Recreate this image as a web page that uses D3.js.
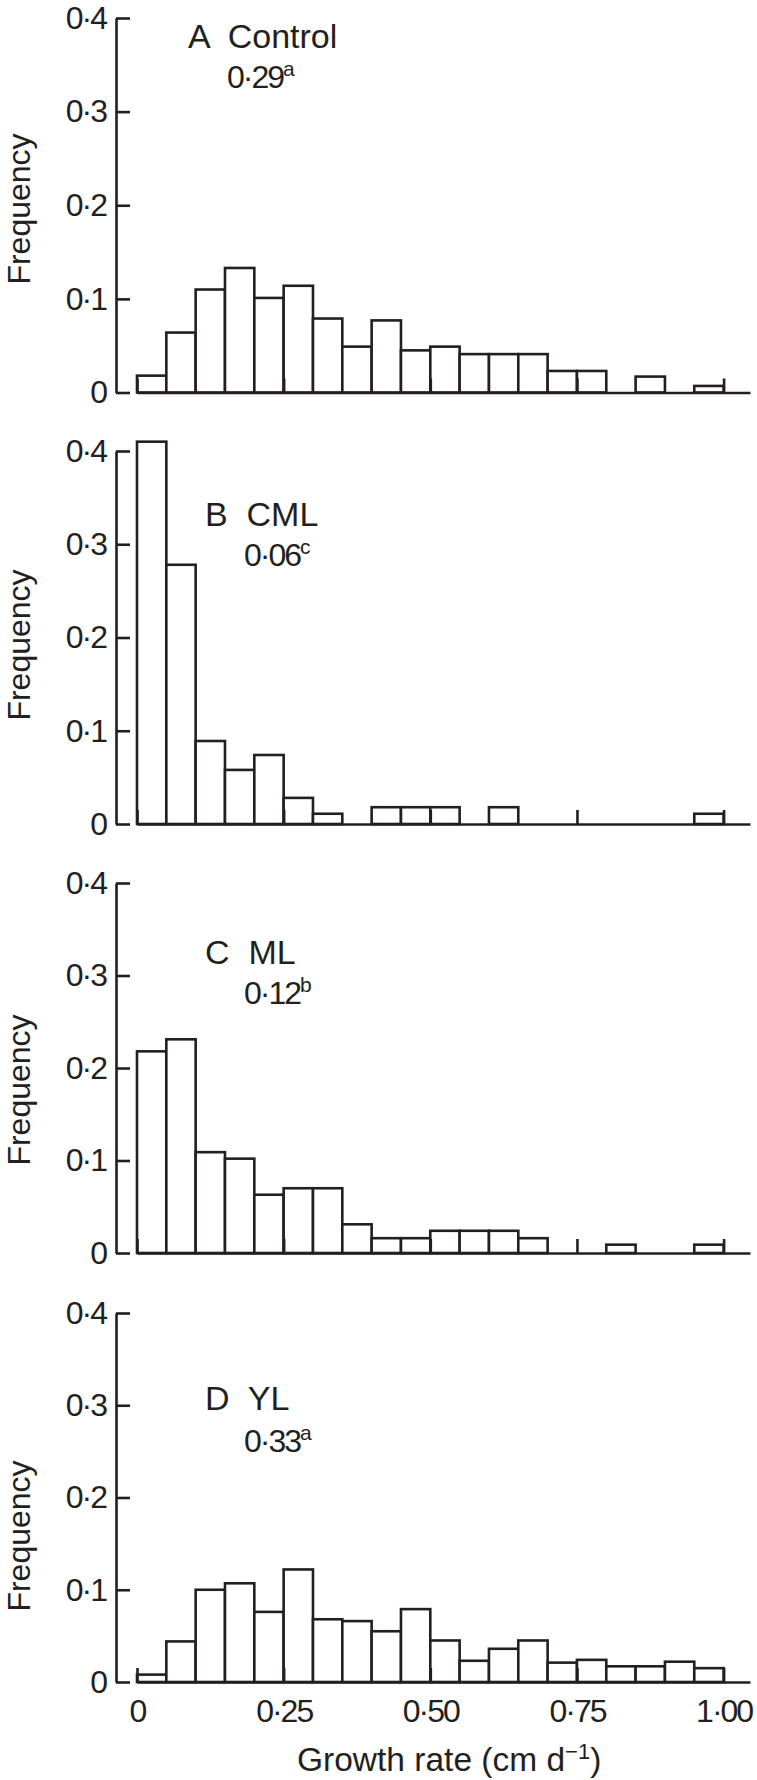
<!DOCTYPE html>
<html>
<head>
<meta charset="utf-8">
<script src="https://cdn.jsdelivr.net/npm/d3@7"></script>
<style>
  html, body { margin: 0; padding: 0; background: #fff; }
  svg { display: block; }
  text { font-family: "Liberation Sans", Arial, Helvetica, sans-serif; fill: #231f20; }
</style>
</head>
<body>
<svg id="chart" width="757" height="1780"></svg>
<script>
// ---- data ----
const binStarts = [0, 0.05, 0.10, 0.15, 0.20, 0.25, 0.30, 0.35, 0.40, 0.45,
                   0.50, 0.55, 0.60, 0.65, 0.70, 0.75, 0.80, 0.85, 0.90, 0.95];
const binWidth = 0.05;
const controlFreq = [0.018, 0.064, 0.110, 0.133, 0.101, 0.114, 0.079, 0.049, 0.077, 0.045,
                     0.049, 0.041, 0.041, 0.041, 0.023, 0.023, 0, 0.017, 0, 0.007];
const cmlFreq = [0.410, 0.278, 0.089, 0.058, 0.074, 0.028, 0.011, 0, 0.018, 0.018,
                 0.018, 0, 0.018, 0, 0, 0, 0, 0, 0, 0.011];
const mlFreq = [0.218, 0.231, 0.109, 0.102, 0.063, 0.070, 0.070, 0.031, 0.016, 0.016,
                0.024, 0.024, 0.024, 0.016, 0, 0, 0.009, 0, 0, 0.009];
const ylFreq = [0.008, 0.044, 0.100, 0.107, 0.076, 0.122, 0.068, 0.066, 0.055, 0.079,
                0.045, 0.023, 0.036, 0.045, 0.021, 0.024, 0.017, 0.017, 0.022, 0.015];
const panelLetters = ["A", "B", "C", "D"];
const panelNames = ["Control", "CML", "ML", "YL"];
const meanValues = ["0·29", "0·06", "0·12", "0·33"];
const meanLetters = ["a", "c", "b", "a"];
const yTicks = [0, 0.1, 0.2, 0.3, 0.4];
const xTicks = [0, 0.25, 0.50, 0.75, 1.00];
const xTickLabels = ["0", "0·25", "0·50", "0·75", "1·00"];
const xTitle = "Growth rate (cm d";
const xTitleSup = "−1";
const yTitle = "Frequency";

const series = [controlFreq, cmlFreq, mlFreq, ylFreq];

// ---- layout ----
const svg = d3.select("#chart");
const ink = "#231f20";
const sw = 2.6;
const fs = 32;
const numSpacing = -2;
const panels = [
  { top: 18,   base: 392.5, labelY: 48,   valueY: 88,   freqY: 209 },
  { top: 451,  base: 824,   labelY: 526,  valueY: 566,  freqY: 645 },
  { top: 883,  base: 1253,  labelY: 964,  valueY: 1004, freqY: 1090 },
  { top: 1313, base: 1682,  labelY: 1410, valueY: 1452, freqY: 1536 }
];
const xAxisX = 116;
const x = d3.scaleLinear().domain([0, 1.045]).range([137, 750]);

panels.forEach((p, i) => {
  const g = svg.append("g");
  const y = d3.scaleLinear().domain([0, 0.4]).range([p.base, p.top]);
  const data = binStarts.map((b, k) => ({ x0: b, x1: b + binWidth, v: series[i][k] }));

  // bars
  g.selectAll("rect.bar").data(data.filter(d => d.v > 0)).join("rect")
    .attr("class", "bar")
    .attr("x", d => x(d.x0))
    .attr("width", d => x(d.x1) - x(d.x0))
    .attr("y", d => y(d.v))
    .attr("height", d => y(0) - y(d.v))
    .attr("fill", "#fff")
    .attr("stroke", ink)
    .attr("stroke-width", sw);

  // y axis
  const ya = g.append("g").attr("transform", `translate(${xAxisX},0)`)
    .call(d3.axisLeft(y).tickValues(yTicks)
      .tickSizeInner(-14).tickSizeOuter(0).tickPadding(10)
      .tickFormat(d => d === 0 ? "0" : d3.format(".1f")(d).replace(".", "·")));
  ya.select(".domain").attr("stroke", ink).attr("stroke-width", sw);
  ya.selectAll(".tick line").attr("stroke", ink).attr("stroke-width", sw);
  ya.selectAll(".tick text").attr("font-size", fs).attr("font-family", null)
    .attr("fill", ink).attr("letter-spacing", numSpacing);

  // x axis
  const xa = g.append("g").attr("transform", `translate(0,${p.base})`)
    .call(d3.axisBottom(x).tickValues(xTicks)
      .tickSizeInner(-14).tickSizeOuter(0).tickPadding(17)
      .tickFormat((d, k) => i === 3 ? xTickLabels[k] : ""));
  xa.select(".domain").attr("stroke", ink).attr("stroke-width", sw);
  xa.selectAll(".tick line").attr("stroke", ink).attr("stroke-width", sw);
  xa.selectAll(".tick text").attr("font-size", fs).attr("font-family", null)
    .attr("fill", ink).attr("letter-spacing", numSpacing);

  // y title
  g.append("text")
    .attr("transform", `translate(30,${p.freqY}) rotate(-90)`)
    .attr("text-anchor", "middle")
    .attr("font-size", fs)
    .text(yTitle);

  // panel label
  const lx = i === 0 ? 188 : 205;
  g.append("text").attr("x", lx).attr("y", p.labelY).attr("font-size", 34)
    .attr("xml:space", "preserve")
    .text(panelLetters[i] + "  " + panelNames[i]);
  const vt = g.append("text").attr("x", lx + 39).attr("y", p.valueY).attr("font-size", fs);
  vt.append("tspan").attr("letter-spacing", numSpacing).text(meanValues[i]);
  vt.append("tspan").attr("font-size", 21).attr("dy", -12).text(meanLetters[i]);
});

// x title
const tt = svg.append("text").attr("x", 297).attr("y", 1771).attr("font-size", 33.5);
tt.append("tspan").text(xTitle);
tt.append("tspan").attr("font-size", 22).attr("dy", -12).text(xTitleSup);
tt.append("tspan").attr("dy", 12).text(")");
</script>
</body>
</html>
